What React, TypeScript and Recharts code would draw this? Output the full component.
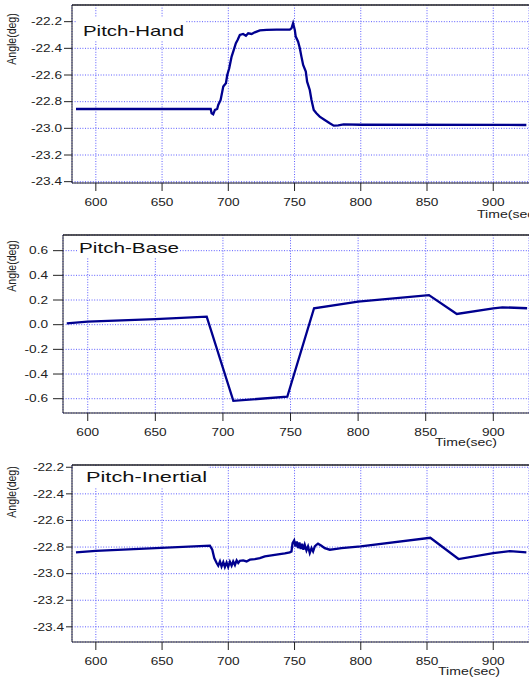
import { LineChart, Line, XAxis, YAxis, CartesianGrid, ReferenceLine } from "recharts";

const FONT = "'Liberation Sans', Arial, Helvetica, sans-serif";
const LINE_COLOR = "#00008f";
const GRID_COLOR = "#5c5cff";
const AXIS_COLOR = "#222";

// ---- shared axes ----
const timeTicks = [600, 650, 700, 750, 800, 850, 900];
const pitchTicks = [-23.4, -23.2, -23.0, -22.8, -22.6, -22.4, -22.2];
const baseTicks = [-0.6, -0.4, -0.2, 0.0, 0.2, 0.4, 0.6];

// ---- Pitch-Hand ----
const handTime = [
  585, 686.7, 687.4, 688.6, 689.9, 691.6, 692.4, 694.2, 696.2, 698.2, 699.2, 700.7, 702.5, 704.5,
  705.7, 707, 708.7, 711.2, 713.3, 715, 717.6, 720, 723.8, 728.9, 736.4, 746.4, 747.7, 748.9,
  750.2, 750.9, 752.7, 754, 755.2, 756.5, 758.5, 759.5, 761.5, 762.8, 764.5, 766.5, 769, 772.8,
  776.6, 779.6, 783, 787, 800, 925,
];
const handAngle = [
  -22.855, -22.855, -22.887, -22.895, -22.862, -22.855, -22.825, -22.787, -22.687, -22.662, -22.6,
  -22.55, -22.462, -22.4, -22.362, -22.337, -22.3, -22.292, -22.305, -22.287, -22.292, -22.28,
  -22.265, -22.262, -22.26, -22.26, -22.25, -22.212, -22.262, -22.312, -22.35, -22.4, -22.462,
  -22.525, -22.575, -22.65, -22.712, -22.787, -22.862, -22.887, -22.912, -22.937, -22.962, -22.98,
  -22.978, -22.97, -22.973, -22.975,
];

// ---- Pitch-Base ----
const baseTime = [584.5, 600, 650, 688, 707.7, 747.6, 767.4, 800, 852.4, 873, 900, 906.7, 925];
const baseAngle = [0.011, 0.025, 0.045, 0.065, -0.617, -0.584, 0.133, 0.187, 0.24, 0.087, 0.133, 0.141, 0.133];

// ---- Pitch-Inertial ----
const inertialTime = [
  585, 600, 686.1, 687.9, 689.4, 691.2, 692.4, 693.7, 694.9, 696.2, 697.4, 698.7, 699.9, 701.2,
  702.5, 703.7, 705, 706.3, 707.5, 708.7, 711.2, 713.8, 716.3, 720, 723.8, 727.6, 732.6, 737.6,
  742.7, 746.4, 747.7, 748.5, 749.7, 750.7, 751.7, 752.7, 753.7, 754.7, 755.7, 756.7, 757.7, 759,
  760.2, 761.5, 762.8, 764, 765.3, 766.5, 767.7, 770.3, 772.8, 776.6, 780.3, 785.4, 800, 852.5,
  873.8, 900, 912.6, 925,
];
const inertialAngle = [
  -22.84, -22.828, -22.79, -22.82, -22.883, -22.92, -22.94, -22.908, -22.946, -22.913, -22.95,
  -22.916, -22.95, -22.91, -22.94, -22.908, -22.935, -22.9, -22.92, -22.903, -22.9, -22.908,
  -22.895, -22.89, -22.883, -22.87, -22.863, -22.855, -22.848, -22.84, -22.833, -22.77, -22.75,
  -22.795, -22.758, -22.808, -22.766, -22.815, -22.775, -22.82, -22.783, -22.826, -22.795,
  -22.845, -22.808, -22.833, -22.795, -22.783, -22.775, -22.79, -22.808, -22.82, -22.815,
  -22.808, -22.795, -22.73, -22.89, -22.845, -22.83, -22.84,
];

const toRows = (t: number[], v: number[]) => t.map((time, i) => ({ time, angle: v[i] }));

const XTick = (props: any) => {
  const { x, y, payload } = props;
  return (
    <g transform={`translate(${x},${y})`}>
      <text transform="scale(1.3,1)" textAnchor="middle" dy="0.71em" fontSize={10.5} fill="#222" fontFamily={FONT}>
        {payload.value}
      </text>
    </g>
  );
};

const YTick = (props: any) => {
  const { x, y, payload } = props;
  return (
    <g transform={`translate(${x},${y})`}>
      <text transform="scale(1.3,1)" textAnchor="end" dy="0.36em" fontSize={10.5} fill="#222" fontFamily={FONT}>
        {Number(payload.value).toFixed(1)}
      </text>
    </g>
  );
};

type PanelProps = {
  top: number;
  rows: { time: number; angle: number }[];
  xDomain: [number, number];
  yDomain: [number, number];
  yTicks: number[];
  yWidth: number;
  yTickSize: number;
  yTickMargin: number;
  xHeight: number;
};

const Panel = ({ top, rows, xDomain, yDomain, yTicks, yWidth, yTickSize, yTickMargin, xHeight }: PanelProps) => (
  <div style={{ position: "absolute", left: 0, top }}>
    <LineChart width={529} height={220} data={rows} margin={{ top: 5, right: 0, bottom: 0, left: 0 }}>
      <CartesianGrid stroke={GRID_COLOR} strokeDasharray="1 1.6" />
      <XAxis
        dataKey="time"
        type="number"
        domain={xDomain}
        allowDataOverflow
        ticks={timeTicks}
        interval={0}
        height={xHeight}
        stroke={AXIS_COLOR}
        tickSize={8}
        tickMargin={8}
        tick={<XTick />}
      />
      <YAxis
        type="number"
        domain={yDomain}
        allowDataOverflow
        ticks={yTicks}
        interval={0}
        width={yWidth}
        stroke={AXIS_COLOR}
        tickSize={yTickSize}
        tickMargin={yTickMargin}
        tick={<YTick />}
      />
      <ReferenceLine y={yDomain[1]} stroke={AXIS_COLOR} strokeWidth={1.5} />
      <Line
        type="linear"
        dataKey="angle"
        stroke={LINE_COLOR}
        strokeWidth={2.3}
        dot={false}
        isAnimationActive={false}
      />
    </LineChart>
  </div>
);

const Title = ({ x, y, w, h, tx, ty, tw, label }: any) => (
  <g>
    <rect x={x} y={y} width={w} height={h} fill="#fff" />
    <text x={tx} y={ty} fontSize={15} fontFamily={FONT} fill="#111" textLength={tw} lengthAdjust="spacingAndGlyphs">
      {label}
    </text>
  </g>
);

const AxisName = ({ cy }: { cy: number }) => (
  <text transform={`translate(16,${cy}) scale(1.25,1) rotate(-90)`} textAnchor="middle" fontSize={10.5} fontFamily={FONT} fill="#222">
    Angle(deg)
  </text>
);

const TimeName = ({ x, y }: { x: number; y: number }) => (
  <text x={x} y={y} fontSize={10.5} fontFamily={FONT} fill="#222" textLength={62} lengthAdjust="spacingAndGlyphs">
    Time(sec)
  </text>
);

export default function App() {
  return (
    <div style={{ position: "absolute", left: 0, top: 0, width: 529, height: 677, background: "#fff", overflow: "hidden" }}>
      <Panel
        top={0}
        rows={toRows(handTime, handAngle)}
        xDomain={[582, 927]}
        yDomain={[-23.41, -22.075]}
        yTicks={pitchTicks}
        yWidth={72}
        yTickSize={8}
        yTickMargin={2}
        xHeight={37}
      />
      <Panel
        top={230}
        rows={toRows(baseTime, baseAngle)}
        xDomain={[581.7, 926.4]}
        yDomain={[-0.716, 0.727]}
        yTicks={baseTicks}
        yWidth={63}
        yTickSize={10}
        yTickMargin={5}
        xHeight={37}
      />
      <Panel
        top={460}
        rows={toRows(inertialTime, inertialAngle)}
        xDomain={[582, 927]}
        yDomain={[-23.514, -22.183]}
        yTicks={pitchTicks}
        yWidth={72}
        yTickSize={6}
        yTickMargin={2}
        xHeight={38}
      />
      <svg width={529} height={677} style={{ position: "absolute", left: 0, top: 0, pointerEvents: "none" }}>
        <Title x={77} y={18} w={108} h={23} tx={83} ty={36} tw={101} label="Pitch-Hand" />
        <Title x={77} y={237} w={103} h={20} tx={79} ty={253} tw={100} label="Pitch-Base" />
        <Title x={73} y={466} w={135} h={21} tx={86} ty={482} tw={121} label="Pitch-Inertial" />
        <AxisName cy={39} />
        <AxisName cy={266} />
        <AxisName cy={492} />
        <TimeName x={477} y={218} />
        <TimeName x={435} y={446} />
        <TimeName x={438} y={675} />
      </svg>
    </div>
  );
}
